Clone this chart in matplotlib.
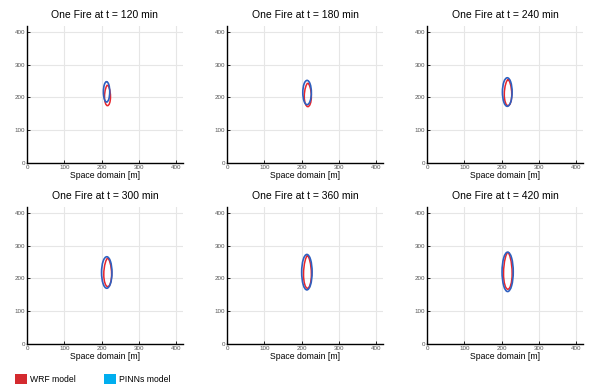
import matplotlib
matplotlib.use("Agg")
import matplotlib.pyplot as plt
from matplotlib.patches import Ellipse, PathPatch, Patch
from matplotlib.path import Path

plt.rcParams['font.family'] = ['Liberation Sans', 'DejaVu Sans']

# ---- data ----
times = [120, 180, 240, 300, 360, 420]
# PINNs fire front (ellipse): x-min, x-max, y-min, y-max  [m]
pinn_xmin = [205, 203, 202, 200, 200, 201]
pinn_xmax = [222, 226, 228, 228, 228, 231]
pinn_ymin = [186, 178, 173, 170, 165, 160]
pinn_ymax = [248, 252, 260, 266, 273, 280]
# WRF fire front (teardrop): x-min, x-max, y-min, y-max  [m]
wrf_xmin = [208, 207, 207, 206, 205, 205]
wrf_xmax = [224, 226, 227, 227, 226, 228]
wrf_ymin = [175, 172, 175, 175, 170, 167]
wrf_ymax = [238, 244, 255, 262, 270, 280]

ticks = [0, 100, 200, 300, 400]
xlim = (0, 418)
ylim = (0, 417)

RED = '#e8262c'
BLUE = '#2f5fbf'
LEG_RED = '#d42a2f'
LEG_CYAN = '#00aeef'


def teardrop(x0, x1, y0, y1):
    cx = 0.5 * (x0 + x1)
    hw = 0.5 * (x1 - x0)
    h = y1 - y0
    yw = y0 + 0.42 * h
    verts = [
        (cx, y1),
        (cx + 0.35 * hw, y1 - 0.02 * h), (x1, y1 - 0.25 * h), (x1, yw),
        (x1, y0 + 0.18 * h), (cx + 0.55 * hw, y0), (cx, y0),
        (cx - 0.55 * hw, y0), (x0, y0 + 0.18 * h), (x0, yw),
        (x0, y1 - 0.25 * h), (cx - 0.35 * hw, y1 - 0.02 * h), (cx, y1),
    ]
    codes = [Path.MOVETO] + [Path.CURVE4] * 12
    return Path(verts, codes)


fig = plt.figure(figsize=(5.9, 3.92), dpi=100)
lefts = [0.0458, 0.385, 0.724]
bottoms = [0.584, 0.1224]
w, h = 0.264, 0.349

for i, t in enumerate(times):
    r, c = divmod(i, 3)
    ax = fig.add_axes([lefts[c], bottoms[r], w, h])
    ax.set_xlim(*xlim)
    ax.set_ylim(*ylim)
    ax.set_xticks(ticks)
    ax.set_yticks(ticks)
    ax.grid(True, color='#e6e6e6', linewidth=0.8)
    ax.set_axisbelow(True)
    for s in ['top', 'right']:
        ax.spines[s].set_visible(False)
    for s in ['left', 'bottom']:
        ax.spines[s].set_color('black')
        ax.spines[s].set_linewidth(1.0)
    ax.tick_params(direction='in', length=2, width=0.6, labelsize=4.5,
                   labelcolor='#555555', pad=1.5)
    ax.set_title(f'One Fire at t = {t} min', fontsize=7.5, pad=6)
    ax.set_xlabel('Space domain [m]', fontsize=6.2, labelpad=0.5)

    ax.add_patch(PathPatch(teardrop(wrf_xmin[i], wrf_xmax[i], wrf_ymin[i], wrf_ymax[i]),
                           facecolor='none', edgecolor=RED, linewidth=1.1, zorder=3))
    ax.add_patch(Ellipse((0.5 * (pinn_xmin[i] + pinn_xmax[i]), 0.5 * (pinn_ymin[i] + pinn_ymax[i])),
                         pinn_xmax[i] - pinn_xmin[i], pinn_ymax[i] - pinn_ymin[i],
                         facecolor='none', edgecolor=BLUE, linewidth=1.2, zorder=4))

handles = [Patch(facecolor=LEG_RED, edgecolor='none'),
           Patch(facecolor=LEG_CYAN, edgecolor='none')]
fig.legend(handles, ['WRF model', 'PINNs model'], loc='lower left',
           bbox_to_anchor=(0.012, 0.0), ncol=2, frameon=False, fontsize=6.2,
           handlelength=1.4, handleheight=1.4, handletextpad=0.4,
           columnspacing=3.2)

fig.savefig('out.png', dpi=100)
